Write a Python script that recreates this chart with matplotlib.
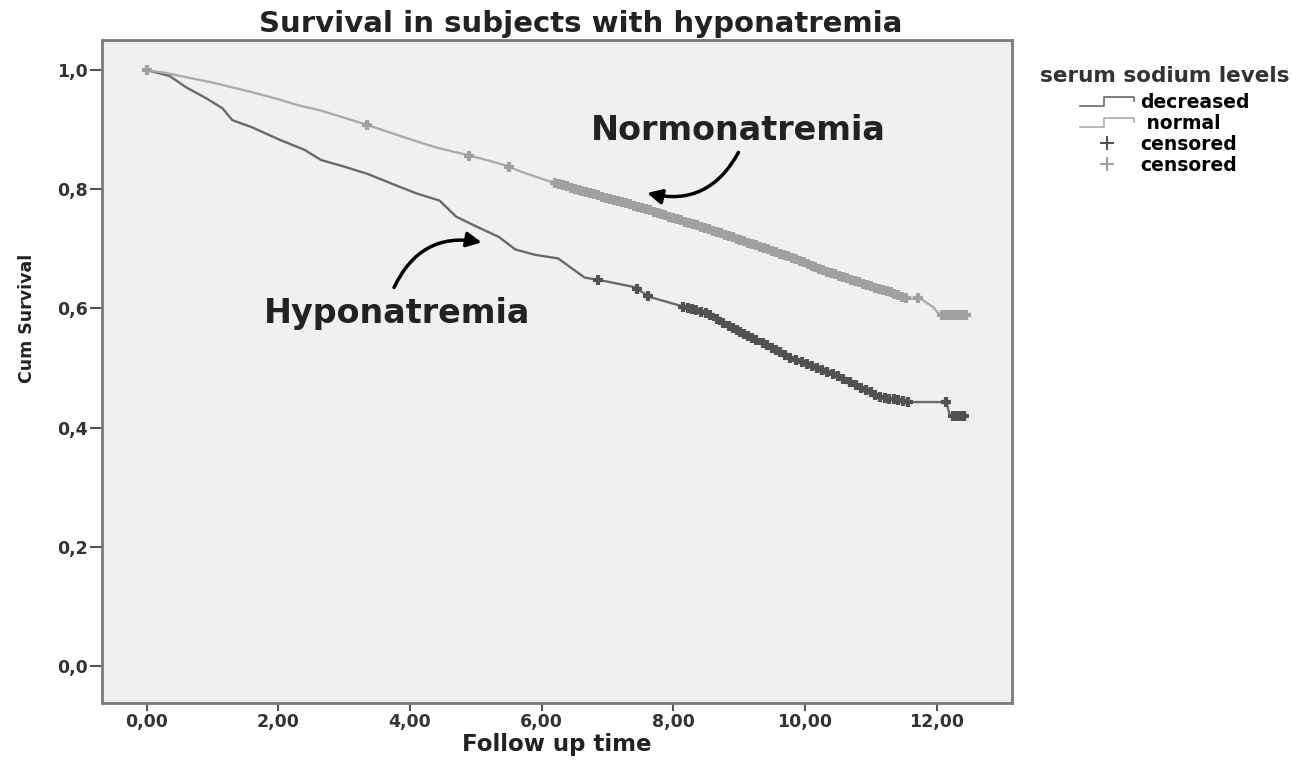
import matplotlib
matplotlib.use("Agg")
import matplotlib.pyplot as plt
import numpy as np
from matplotlib.lines import Line2D
from matplotlib.legend_handler import HandlerBase

# Kaplan-Meier estimates (time in years, cumulative survival)
normal_t = [0.00, 0.30, 0.60, 1.00, 1.30, 1.60, 2.00, 2.30, 2.65, 3.00, 3.35, 3.70,
            4.00, 4.40, 4.85, 5.20, 5.45, 5.70, 6.10, 6.40, 6.85, 7.20, 7.60, 8.00,
            8.40, 8.80, 9.15, 9.50, 9.90, 10.25, 10.60, 11.00, 11.30, 11.55, 11.75,
            11.95, 12.05, 12.50]
normal_s = [1.000, 0.995, 0.988, 0.979, 0.971, 0.963, 0.951, 0.941, 0.932, 0.920,
            0.908, 0.895, 0.884, 0.870, 0.858, 0.848, 0.840, 0.829, 0.814, 0.804,
            0.790, 0.779, 0.766, 0.752, 0.738, 0.723, 0.710, 0.697, 0.681, 0.665,
            0.652, 0.637, 0.627, 0.617, 0.617, 0.602, 0.589, 0.589]

decr_t = [0.00, 0.35, 0.60, 0.90, 1.15, 1.30, 1.60, 2.00, 2.40, 2.65, 3.00, 3.35,
          3.80, 4.10, 4.45, 4.70, 5.00, 5.35, 5.60, 5.90, 6.25, 6.65, 7.00, 7.40,
          7.65, 8.00, 8.50, 9.05, 9.40, 9.75, 10.10, 10.50, 10.80, 11.15, 11.60,
          12.15, 12.20, 12.45]
decr_s = [1.000, 0.990, 0.971, 0.953, 0.936, 0.916, 0.904, 0.884, 0.866, 0.849,
          0.838, 0.826, 0.806, 0.793, 0.781, 0.754, 0.738, 0.720, 0.699, 0.690,
          0.684, 0.652, 0.645, 0.636, 0.619, 0.608, 0.592, 0.559, 0.540, 0.518,
          0.503, 0.486, 0.470, 0.451, 0.443, 0.443, 0.420, 0.420]

# censored follow-up times
normal_cens = [0.00, 3.35, 4.90, 5.50,
               6.20, 6.26, 6.32, 6.38, 6.44, 6.50, 6.56, 6.62, 6.68, 6.74, 6.80, 6.86,
               6.92, 6.98, 7.04, 7.10, 7.16, 7.22, 7.28, 7.34, 7.40, 7.46, 7.52, 7.58,
               7.64, 7.70, 7.76, 7.82, 7.88, 7.94, 8.00, 8.06, 8.12, 8.18, 8.24, 8.30,
               8.36, 8.42, 8.48, 8.54, 8.60, 8.66, 8.72, 8.78, 8.84, 8.90, 8.96, 9.02,
               9.08, 9.14, 9.20, 9.26, 9.32, 9.38, 9.44, 9.50, 9.56, 9.62, 9.68, 9.74,
               9.80, 9.86, 9.92, 9.98, 10.04, 10.10, 10.16, 10.22, 10.28, 10.34, 10.40,
               10.46, 10.52, 10.58, 10.64, 10.70, 10.76, 10.82, 10.88, 10.94, 11.00,
               11.06, 11.12, 11.18, 11.24, 11.30, 11.36, 11.42, 11.48, 11.54, 11.72,
               12.08, 12.14, 12.20, 12.26, 12.32, 12.38, 12.44]
decr_cens = [6.85, 7.45, 7.62,
             8.15, 8.22, 8.28, 8.35, 8.42, 8.50, 8.56, 8.66, 8.76,
             8.85, 8.90, 8.96, 9.02, 9.08, 9.14, 9.20, 9.26, 9.36, 9.43,
             9.50, 9.56, 9.62, 9.70, 9.78, 9.86, 9.95, 10.03,
             10.10, 10.18, 10.26, 10.34, 10.42, 10.50, 10.58, 10.68, 10.77,
             10.85, 10.92, 11.00, 11.07, 11.14, 11.21, 11.28, 11.35, 11.42, 11.49, 11.56,
             12.15, 12.25, 12.30, 12.36, 12.42]

x_ticks = [0, 2, 4, 6, 8, 10, 12]
x_labels = ["0,00", "2,00", "4,00", "6,00", "8,00", "10,00", "12,00"]
y_ticks = [0.0, 0.2, 0.4, 0.6, 0.8, 1.0]
y_labels = ["0,0", "0,2", "0,4", "0,6", "0,8", "1,0"]

c_decr = "#6a6a6a"
c_decr_cens = "#525252"
c_norm = "#ababab"
c_norm_cens = "#a0a0a0"


class StepHandler(HandlerBase):
    # little step-shaped legend key
    def create_artists(self, legend, orig_handle, xdescent, ydescent, width, height, fontsize, trans):
        xs = np.array([0, 0.45, 0.45, 1.0, 1.0]) * width - xdescent
        ys = np.array([0.15, 0.15, 0.85, 0.85, 0.5]) * height - ydescent
        ln = Line2D(xs, ys, color=orig_handle.get_color(), lw=1.2)
        ln.set_transform(trans)
        return [ln]


fig = plt.figure(figsize=(13.02, 7.6), dpi=100)
ax = fig.add_axes([0.0783, 0.075, 0.6987, 0.872])
ax.set_facecolor("#f0f0f0")

ax.plot(decr_t, decr_s, color=c_decr, lw=1.7)
ax.plot(normal_t, normal_s, color=c_norm, lw=1.7)
# censor ticks sit on the drawn curves
ax.plot(normal_cens, np.interp(normal_cens, normal_t, normal_s), ls="none", marker="+",
        ms=7, mew=3.0, color=c_norm_cens)
ax.plot(decr_cens, np.interp(decr_cens, decr_t, decr_s), ls="none", marker="+",
        ms=7.5, mew=3.0, color=c_decr_cens)

ax.set_xlim(-0.68, 13.14)
ax.set_ylim(-0.062, 1.05)
ax.set_xticks(x_ticks)
ax.set_xticklabels(x_labels)
ax.set_yticks(y_ticks)
ax.set_yticklabels(y_labels)
ax.tick_params(direction="out", width=1.5, color="#555555",
               labelsize=12.5, labelcolor="#333333")
ax.tick_params(axis="y", length=8.5, pad=1.5)
ax.tick_params(axis="x", length=6, pad=1)
for lab in ax.get_xticklabels() + ax.get_yticklabels():
    lab.set_fontweight("bold")
for sp in ax.spines.values():
    sp.set_color("#7a7a7a")
    sp.set_linewidth(2.0)

ax.set_title("Survival in subjects with hyponatremia", fontsize=21, fontweight="bold",
             color="#222222", pad=6, x=0.526)
ax.set_xlabel("Follow up time", fontsize=16.5, fontweight="bold", color="#222222")
ax.xaxis.set_label_coords(0.5, -0.045)
ax.set_ylabel("Cum Survival", fontsize=12.5, fontweight="bold", color="#222222")
ax.yaxis.set_label_coords(-0.072, 0.58)

# curve labels with curved arrows
ax.text(8.98, 0.899, "Normonatremia", fontsize=24, fontweight="bold", color="#222222",
        ha="center", va="center")
ax.annotate("", xy=(7.56, 0.795), xytext=(9.01, 0.866),
            arrowprops=dict(arrowstyle="-|>", connectionstyle="arc3,rad=-0.4",
                            color="black", lw=2.5, mutation_scale=22))
ax.text(3.81, 0.592, "Hyponatremia", fontsize=24, fontweight="bold", color="#222222",
        ha="center", va="center")
ax.annotate("", xy=(5.13, 0.71), xytext=(3.74, 0.631),
            arrowprops=dict(arrowstyle="-|>", connectionstyle="arc3,rad=-0.4",
                            color="black", lw=2.5, mutation_scale=22))

fig.text(1040 / 1302, 1 - 76 / 760, "serum sodium levels", fontsize=15.5, fontweight="bold",
         color="#333333", va="center", ha="left")
handles = [Line2D([], [], color=c_decr), Line2D([], [], color=c_norm),
           Line2D([], [], ls="none", marker="+", ms=10, mew=1.5, color=c_decr_cens),
           Line2D([], [], ls="none", marker="+", ms=10, mew=1.5, color=c_norm_cens)]
labels = ["decreased", " normal", "censored", "censored"]
fig.legend(handles, labels, loc="upper left", bbox_to_anchor=(1080 / 1302, 1 - 93 / 760),
           frameon=False, prop=dict(weight="bold", size=13.5),
           handlelength=2.9, handletextpad=0.3, labelspacing=0.1, borderaxespad=0,
           borderpad=0, handler_map={handles[0]: StepHandler(), handles[1]: StepHandler()})

plt.savefig("out.png", dpi=100)
